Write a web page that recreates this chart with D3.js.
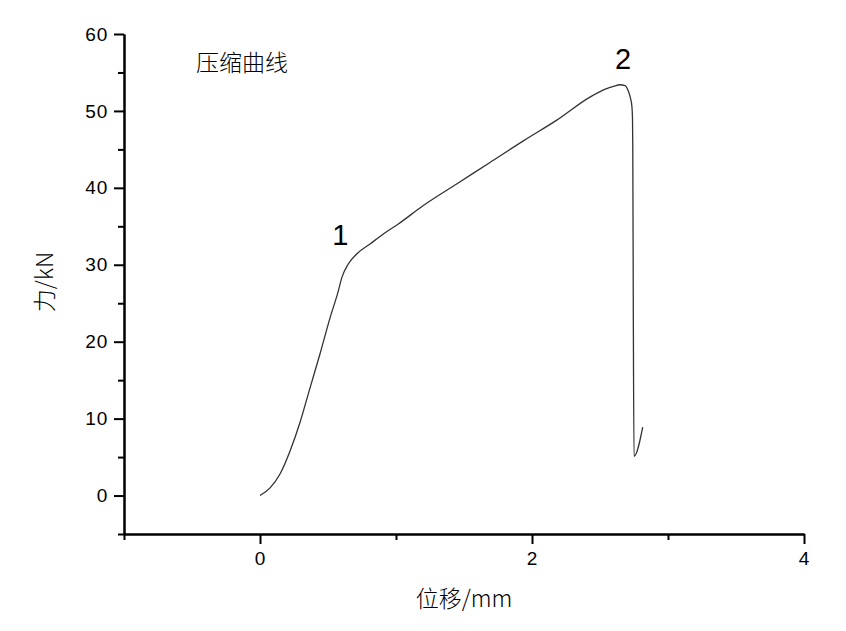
<!DOCTYPE html>
<html>
<head>
<meta charset="utf-8">
<script src="https://cdn.jsdelivr.net/npm/d3@7"></script>
<style>
  body { margin: 0; background: #fff; }
  svg { display: block; }
  .tick text { font-family: "Liberation Sans", Arial, sans-serif; }
</style>
</head>
<body>
<svg id="chart" width="846" height="631"></svg>
<script>
// compression test curve
var displacement = [0, 0.074, 0.147, 0.221, 0.294, 0.368, 0.441, 0.515, 0.576, 0.601, 0.649, 0.711, 0.809, 0.907, 1.017,
  1.201, 1.446, 1.691, 1.936, 2.182, 2.426, 2.549, 2.60, 2.647, 2.684, 2.708, 2.725, 2.735, 2.739, 2.741, 2.745, 2.750, 2.814]
var force = [0, 1.0, 2.8, 5.8, 9.5, 14.0, 18.4, 23.1, 26.6, 28.3, 30.1, 31.4, 32.7, 34.0, 35.3,
  37.7, 40.5, 43.3, 46.1, 48.8, 51.8, 52.9, 53.2, 53.4, 53.3, 52.6, 51.6, 50.5, 49.0, 45.3, 23.6, 5.1, 8.9]

var xMajor = [0, 2, 4]
var xMinor = [-1, 1, 3]
var yMajor = [0, 10, 20, 30, 40, 50, 60]
var yMinor = [-5, 5, 15, 25, 35, 45, 55]

var title = "压缩曲线"
var xTitle = "位移/mm"
var yTitle = "力/kN"
var marks = [{label: "1", x: 0.59, y: 32.6}, {label: "2", x: 2.67, y: 55.5}]

var svg = d3.select("#chart")
var x = d3.scaleLinear().domain([-1, 4]).range([124, 804])
var y = d3.scaleLinear().domain([-5, 60]).range([534, 34])

function styleAxis(g) {
  g.select(".domain").attr("stroke", "#000").attr("stroke-width", 2)
  g.selectAll(".tick line").attr("stroke", "#000").attr("stroke-width", 2)
  g.selectAll(".tick text").attr("fill", "#000")
    .style("font-size", "19px").style("letter-spacing", "0.8px")
}

// minor ticks first, majors drawn on top
svg.append("g").attr("transform", "translate(0,534)")
  .call(d3.axisBottom(x).tickValues(xMinor).tickSize(6).tickFormat("").tickSizeOuter(0))
  .call(styleAxis)
svg.append("g").attr("transform", "translate(124,0)")
  .call(d3.axisLeft(y).tickValues(yMinor).tickSize(6).tickFormat("").tickSizeOuter(0))
  .call(styleAxis)

svg.append("g").attr("transform", "translate(0,534)")
  .call(d3.axisBottom(x).tickValues(xMajor).tickSize(10).tickPadding(8).tickFormat(d3.format("d")).tickSizeOuter(0))
  .call(styleAxis)
svg.append("g").attr("transform", "translate(124,0)")
  .call(d3.axisLeft(y).tickValues(yMajor).tickSize(10).tickPadding(6).tickFormat(d3.format("d")).tickSizeOuter(0))
  .call(styleAxis)

var pts = displacement.map(function(d, i) { return [d, force[i]] })
var line = d3.line()
  .curve(d3.curveMonotoneX)
  .x(function(d) { return x(d[0]) })
  .y(function(d) { return y(d[1]) })

svg.append("path")
  .datum(pts)
  .attr("d", line)
  .attr("fill", "none")
  .attr("stroke", "#333")
  .attr("stroke-width", 1.3)
  .attr("stroke-linejoin", "round")

svg.selectAll(".mark")
  .data(marks)
  .enter().append("text")
  .attr("class", "mark")
  .attr("x", function(d) { return x(d.x) })
  .attr("y", function(d) { return y(d.y) })
  .attr("text-anchor", "middle")
  .style("font-family", "'Liberation Sans', Arial, sans-serif")
  .style("font-size", "29px")
  .text(function(d) { return d.label })

svg.append("text")
  .attr("x", 196)
  .attr("y", 71)
  .style("font-family", "'Noto Sans CJK SC', sans-serif")
  .style("font-weight", 300)
  .style("font-size", "23px")
  .text(title)

svg.append("text")
  .attr("x", 464)
  .attr("y", 607)
  .attr("text-anchor", "middle")
  .style("font-family", "'Noto Sans CJK SC', 'Liberation Sans', sans-serif")
  .style("font-weight", 300)
  .style("font-size", "23px")
  .text(xTitle)

svg.append("text")
  .attr("transform", "translate(53,282) rotate(-90)")
  .attr("text-anchor", "middle")
  .style("font-family", "'Noto Sans CJK SC', 'Liberation Sans', sans-serif")
  .style("font-weight", 300)
  .style("font-size", "23px")
  .text(yTitle)
</script>
</body>
</html>
